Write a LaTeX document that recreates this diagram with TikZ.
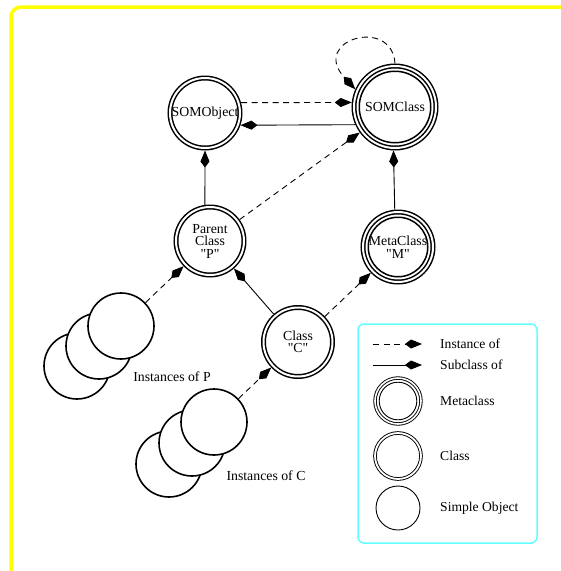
\documentclass[tikz,border=0pt]{standalone}
\usepackage{fontspec}
\setmainfont{Liberation Serif}[Ligatures=TeXOff]
\usetikzlibrary{arrows.meta}
\definecolor{framey}{RGB}{255,255,0}
\definecolor{legcyan}{RGB}{100,255,255}

\begin{document}
\begin{tikzpicture}[x=1pt, y=-1pt,
  txt/.style={font=\fontsize{13.8}{12.5}\selectfont, align=center, inner sep=0pt},
  simpleobj/.style={circle, draw, fill=white, line width=1.6pt, inner sep=0pt,
    outer sep=0.8pt, minimum size=#1},
  classobj/.style={circle, draw, double, double distance=2pt, line width=1.5pt,
    inner sep=0pt, outer sep=2.5pt, minimum size=#1, txt},
  metaobj/.style={circle, draw, double, double distance=2pt, line width=1.5pt,
    inner sep=0pt, outer sep=2.5pt, minimum size=#1, txt,
    path picture={\draw[line width=1.5pt] (path picture bounding box.center)
      circle[radius=0.5*#1-5.25pt];}},
  legsimple/.style={circle, draw, line width=0.9pt, inner sep=0pt, minimum size=#1},
  legclass/.style={circle, draw, double, double distance=1.8pt, line width=0.9pt,
    inner sep=0pt, minimum size=#1},
  legmeta/.style={circle, draw, double, double distance=1.6pt, line width=0.9pt,
    inner sep=0pt, minimum size=#1,
    path picture={\draw[line width=0.9pt] (path picture bounding box.center)
      circle[radius=0.5*#1-4.2pt];}},
  tip/.style={-{Kite[length=17pt, width=9pt, inset=6pt]}},
  instanceof/.style={tip, line width=0.9pt, dash pattern=on 6pt off 4.5pt},
  subclassof/.style={tip, line width=0.9pt},
  legtext/.style={font=\fontsize{13.6}{14}\selectfont, anchor=west, inner sep=0pt},
  frame/.style={draw=framey, line width=3.5pt, rounded corners=10pt},
  legendbox/.style={draw=legcyan, line width=1.5pt, rounded corners=6pt}
]
\useasboundingbox (0,0) rectangle (561,571);

% outer frame, running past the page on the right and bottom
\begin{scope}
  \clip (0,0) rectangle (561,571);
  \draw[frame] (11,7) rectangle (620,640);
\end{scope}

% classes
\node[classobj=70pt] (somobject) at (205,113) {SOMObject};
\node[metaobj=82pt] (somclass) at (395,107) {SOMClass};
\node[classobj=68pt] (parent) at (210,241) {Parent\\Class\\"P"};
\node[metaobj=70pt] (metam) at (398,247) {MetaClass\\"M"};
\node[classobj=69pt] (classc) at (298,342) {Class\\"C"};

% instances of P
\node[simpleobj=66pt] (p3) at (77,366) {};
\node[simpleobj=66pt] (p2) at (99,346) {};
\node[simpleobj=66pt] (p1) at (121,326) {};
\node[txt] (plabel) at (172,377) {Instances of P};

% instances of C
\node[simpleobj=66pt] (c3) at (169,464) {};
\node[simpleobj=66pt] (c2) at (192,443) {};
\node[simpleobj=66pt] (c1) at (214,422) {};
\node[txt] (clabel) at (266,476) {Instances of C};

% relations
\draw[instanceof] (somobject.16) -- (somclass.174);
\draw[subclassof] (somclass.204) -- (somobject.341);
\draw[subclassof] (parent.98) -- (somobject.south);
\draw[instanceof] (parent) -- (somclass);
\draw[subclassof] (metam.95) -- (somclass.268);
\draw[subclassof] (classc) -- (parent);
\draw[instanceof] (classc) -- (metam);
\draw[instanceof] (p1) -- (parent);
\draw[instanceof] (c1) -- (classc);
\draw[instanceof] (somclass.90) .. controls (392,16) and (310,40) .. (somclass.156);

% legend
\draw[legendbox] (358,324) rectangle (537,543);
\coordinate (ia) at (373,344);
\coordinate (ib) at (422,344);
\coordinate (sa) at (373,365);
\coordinate (sb) at (422,365);
\draw[instanceof] (ia) -- (ib);
\draw[subclassof] (sa) -- (sb);
\node[legtext] (tinst) at (440,344) {Instance of};
\node[legtext] (tsub) at (440,365) {Subclass of};
\node[legmeta=46pt] (lmeta) at (398,401) {};
\node[legtext] (tmeta) at (440,401) {Metaclass};
\node[legclass=46pt] (lclass) at (398,456) {};
\node[legtext] (tclass) at (440,456) {Class};
\node[legsimple=44pt] (lsimple) at (398,508) {};
\node[legtext] (tsimple) at (440,508) {Simple Object};
\end{tikzpicture}
\end{document}
